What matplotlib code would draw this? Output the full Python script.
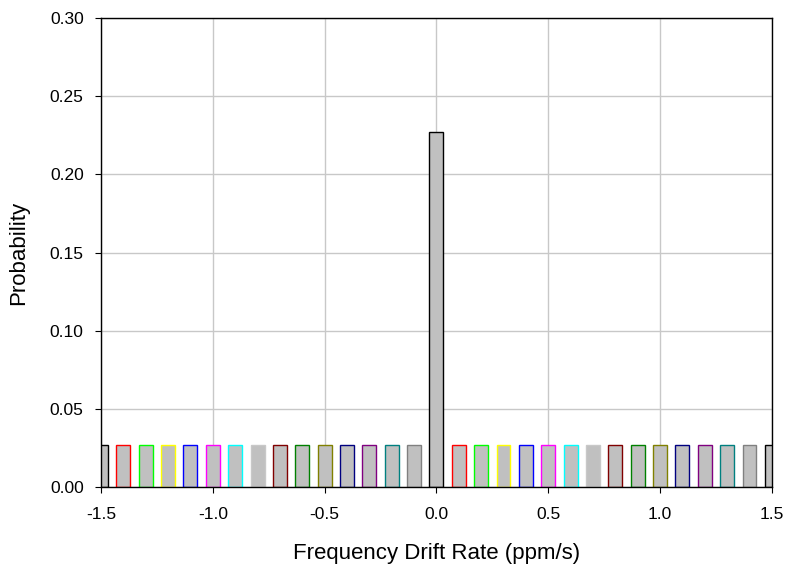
import numpy as np
import matplotlib
matplotlib.use('Agg')
import matplotlib.pyplot as plt

plt.rcParams['font.family'] = ['Liberation Sans', 'DejaVu Sans']

# ------------------------------------------------------------------ data
drift = np.round(np.arange(-1.5, 1.501, 0.1), 1)
prob = [0.027] * 15 + [0.227] + [0.027] * 15
edge_cycle = ['#000000', '#ff0000', '#00ff00', '#ffff00', '#0000ff', '#ff00ff',
              '#00ffff', '#c8c8c8', '#800000', '#008000', '#808000', '#000080',
              '#800080', '#008080', '#808080']
xticks = [-1.5, -1.0, -0.5, 0.0, 0.5, 1.0, 1.5]
yticks = [0.00, 0.05, 0.10, 0.15, 0.20, 0.25, 0.30]

# ------------------------------------------------------------------ plot
fig = plt.figure(figsize=(7.86, 5.64), dpi=100)
ax = fig.add_axes([0.1285, 0.1365, 0.8535, 0.8315])

edges = [edge_cycle[i % len(edge_cycle)] for i in range(len(drift))]
ax.bar(drift, prob, width=0.0625, color='#c0c0c0', edgecolor=edges,
       linewidth=1.0, zorder=3)

ax.set_xlim(-1.5, 1.5)
ax.set_ylim(0, 0.30)
ax.set_xticks(xticks)
ax.set_xticklabels([f'{t:.1f}' for t in xticks])
ax.set_yticks(yticks)
ax.set_yticklabels([f'{t:.2f}' for t in yticks])
ax.grid(True, color='#c8c8c8', lw=1.0, zorder=0)
ax.tick_params(direction='out', length=4.5, labelsize=12.5, pad=8)
ax.tick_params(axis='x', pad=10)
for s in ax.spines.values():
    s.set_linewidth(1.0)
    s.set_zorder(4)

ax.set_xlabel('Frequency Drift Rate (ppm/s)', fontsize=16, labelpad=15)
ax.set_ylabel('Probability', fontsize=16, labelpad=15)

plt.savefig('out.png', dpi=100)
plt.close()
